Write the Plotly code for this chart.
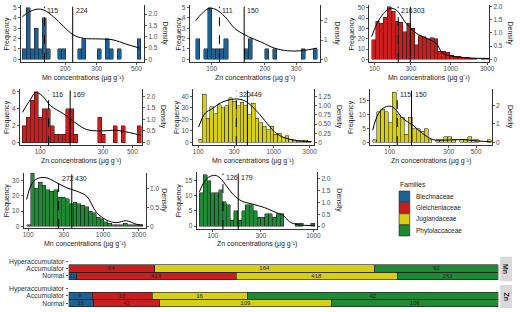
import numpy as np
import plotly.graph_objects as go

W, H = 520, 312
FONT = "Liberation Sans, Arial, sans-serif"

# ---------------- data ----------------
families = ["Blechnaceae", "Gleicheniaceae", "Juglandaceae", "Phytolaccaceae"]
fam_colors = ["#1b6191", "#c81e1e", "#d6cf13", "#1e8a35"]

# Mn - Blechnaceae
mn_blech_bins = [115, 530]
mn_blech_counts = [1, 5, 1, 3, 1, 4, 1, 0, 0, 1, 1, 0, 0, 0, 1, 2, 0, 0, 0, 1, 0, 2, 1, 0, 1, 0, 0, 0, 0, 2]
mn_blech_dx = [115, 123, 139, 152, 172, 196, 222, 253, 312, 370, 438, 519]
mn_blech_dy = [1.88, 2.06, 2.22, 2.18, 1.88, 1.45, 1.08, 0.93, 0.90, 0.86, 0.67, 0.50]
mn_blech_lines = [153, 220]
mn_blech_labels = ["115", "224"]

# Zn - Blechnaceae
zn_blech_bins = [81, 395]
zn_blech_counts = [2, 0, 1, 5, 1, 1, 1, 2, 0, 0, 0, 0, 1, 2, 0, 0, 0, 1, 0, 1, 0, 0, 0, 0, 0, 0, 1, 0, 0, 1]
zn_blech_dx = [81, 88, 96, 104.6, 119, 135, 160.6, 190.5, 226, 268.5, 319, 395]
zn_blech_dy = [2.0, 2.38, 2.63, 2.6, 2.2, 1.6, 1.18, 0.89, 0.58, 0.44, 0.44, 0.58]
zn_blech_lines = [110.5, 152.5]
zn_blech_labels = ["111", "150"]

# Mn - Gleicheniaceae
mn_gleich_bins = [92, 3133]
mn_gleich_counts = [19, 37, 35, 41, 51, 47, 37, 36, 27, 35, 30, 14, 23, 22, 20, 21, 20, 8, 8, 7, 4, 3, 3, 2, 2, 1, 1, 0, 1, 1]
mn_gleich_dx = [92, 118, 159, 194, 261, 352, 474, 639, 781, 1052, 1727, 3133]
mn_gleich_dy = [0.86, 1.55, 1.93, 1.86, 1.36, 0.99, 0.80, 0.61, 0.24, 0.11, 0.05, 0.03]
mn_gleich_lines = [205, 295]
mn_gleich_labels = ["216", "303"]

# Zn - Gleicheniaceae
zn_gleich_bins = [73.5, 582.6]
zn_gleich_counts = [2, 3, 5, 6, 3, 4, 4, 2, 1, 1, 1, 4, 4, 1, 0, 0, 0, 0, 0, 3, 1, 0, 0, 2, 0, 2, 0, 0, 0, 2]
zn_gleich_dx = [73.5, 84.9, 92.5, 103.8, 119.9, 150.8, 190, 225.8, 284, 378, 476, 582]
zn_gleich_dy = [1.31, 1.89, 2.17, 2.03, 1.60, 1.24, 0.81, 0.56, 0.50, 0.53, 0.43, 0.31]
zn_gleich_lines = [116, 169]
zn_gleich_labels = ["116", "169"]

# Mn - Juglandaceae
mn_jug_bins = [101.5, 3168]
mn_jug_counts = [3, 42, 21, 31, 25, 33, 30, 32, 39, 36, 32, 35, 32, 24, 34, 21, 17, 14, 11, 14, 7, 8, 4, 6, 3, 2, 1, 2, 2, 1]
mn_jug_dx = [101.5, 124, 151.7, 205, 307, 415, 562, 760, 1027, 1390, 2293, 3168]
mn_jug_dy = [0.42, 0.80, 0.91, 1.09, 1.18, 1.13, 0.91, 0.60, 0.29, 0.13, 0.04, 0.02]
mn_jug_lines = [320, 449]
mn_jug_labels = ["320", "449"]

# Zn - Juglandaceae
zn_jug_bins = [72.7, 663]
zn_jug_counts = [1, 11, 12, 11, 7, 18, 10, 9, 3, 9, 5, 5, 4, 5, 1, 0, 1, 1, 2, 2, 1, 0, 1, 1, 2, 1, 1, 0, 0, 1]
zn_jug_dx = [72.7, 80.8, 91.2, 103.2, 113.1, 128, 153.9, 185, 222.5, 284, 386.6, 494, 663]
zn_jug_dy = [0.66, 1.55, 1.91, 1.95, 1.73, 1.29, 0.93, 0.48, 0.16, 0.125, 0.16, 0.09, 0.04]
zn_jug_lines = [115, 150]
zn_jug_labels = ["115", "150"]

# Mn - Phytolaccaceae
mn_phyt_bins = [95.5, 3372]
mn_phyt_counts = [1, 35, 25, 29, 27, 24, 23, 24, 19, 19, 18, 15, 16, 15, 14, 13, 10, 9, 6, 5, 3, 2, 1, 1, 1, 2, 1, 1, 1, 1]
mn_phyt_dx = [95.5, 113.5, 139, 179, 243, 329, 445, 603, 817, 1108, 1501, 2033, 2754, 3372]
mn_phyt_dy = [0.71, 1.15, 1.28, 1.28, 1.15, 1.02, 0.93, 0.80, 0.37, 0.17, 0.10, 0.15, 0.06, 0.03]
mn_phyt_lines = [255, 382]
mn_phyt_labels = ["272", "430"]

# Zn - Phytolaccaceae
zn_phyt_bins = [73.5, 1030]
zn_phyt_counts = [11, 17, 15, 11, 11, 12, 8, 7, 2, 5, 2, 5, 7, 7, 5, 3, 3, 4, 4, 3, 4, 4, 0, 0, 0, 1, 1, 0, 0, 1]
zn_phyt_dx = [73.5, 81, 90.7, 105.5, 118.2, 137.4, 159.7, 193, 251, 327, 426, 496, 576.5, 696, 1031]
zn_phyt_dy = [1.44, 1.82, 2.06, 2.14, 2.03, 1.68, 1.33, 1.06, 0.92, 0.78, 0.57, 0.47, 0.19, 0.06, 0.03]
zn_phyt_lines = [126, 179]
zn_phyt_labels = ["126", "179"]

# Stacked bars (counts per family: Blech, Gleich, Jug, Phyt)
categories = ["Normal", "Accumulator", "Hyperaccumulator"]
mn_normal = [21, 413, 418, 262]
mn_accum = [0, 64, 164, 92]
mn_hyper = [0, 0, 0, 0]
zn_normal = [16, 42, 109, 106]
zn_accum = [4, 10, 16, 42]
zn_hyper = [0, 0, 0, 0]

# ---------------- panel layout ----------------
MN = "Mn concentrations (µg g⁻¹)"
ZN = "Zn concentrations (µg g⁻¹)"
panels = [
    dict(bins=mn_blech_bins, counts=mn_blech_counts, dx=mn_blech_dx, dy=mn_blech_dy, lines=mn_blech_lines, labels=mn_blech_labels, color=fam_colors[0],
         box=(20, 145, 3, 61), xr=[2.052, 2.743], yr=[-0.287, 5.26], y2r=[-0.131, 2.407],
         xt=[200, 300, 500], yt=[0, 1, 2, 3, 4, 5], y2t=[0, 0.5, 1, 1.5, 2], y2l=["0", "0.5", "1.0", "1.5", "2.0"],
         title=MN, ty=77, fx=6, dxp=166),
    dict(bins=zn_blech_bins, counts=zn_blech_counts, dx=zn_blech_dx, dy=zn_blech_dy, lines=zn_blech_lines, labels=zn_blech_labels, color=fam_colors[0],
         box=(190.7, 322.7, 3, 61), xr=[1.874, 2.612], yr=[-0.287, 5.26], y2r=[-0.154, 2.82],
         xt=[100, 200, 300], yt=[0, 1, 2, 3, 4, 5], y2t=[0, 1, 2], y2l=["0", "1", "2"],
         title=ZN, ty=77, fx=180, dxp=340),
    dict(bins=mn_gleich_bins, counts=mn_gleich_counts, dx=mn_gleich_dx, dy=mn_gleich_dy, lines=mn_gleich_lines, labels=mn_gleich_labels, color=fam_colors[1],
         box=(372.3, 494, 3, 61), xr=[1.929, 3.505], yr=[-2.88, 52.9], y2r=[-0.1125, 2.06],
         xt=[100, 300, 1000, 3000], yt=[0, 10, 20, 30, 40, 50], y2t=[0, 0.5, 1, 1.5, 2], y2l=["0", "0.5", "1.0", "1.5", "2.0"],
         title=MN, ty=77, fx=355, dxp=515),
    dict(bins=zn_gleich_bins, counts=zn_gleich_counts, dx=zn_gleich_dx, dy=zn_gleich_dy, lines=zn_gleich_lines, labels=zn_gleich_labels, color=fam_colors[1],
         box=(19, 143, 88, 145), xr=[1.846, 2.775], yr=[-0.31, 6.31], y2r=[-0.116, 2.33],
         xt=[100, 300, 500], yt=[0, 2, 4, 6], y2t=[0, 0.5, 1, 1.5, 2], y2l=["0", "0.5", "1.0", "1.5", "2.0"],
         title=ZN, ty=161, fx=6, dxp=164),
    dict(bins=mn_jug_bins, counts=mn_jug_counts, dx=mn_jug_dx, dy=mn_jug_dy, lines=mn_jug_lines, labels=mn_jug_labels, color=fam_colors[2],
         box=(194, 316.7, 88, 145), xr=[1.928, 3.536], yr=[-2.3, 46.6], y2r=[-0.072, 1.456],
         xt=[100, 300, 1000, 3000], yt=[0, 10, 20, 30, 40], y2t=[0, 0.25, 0.5, 0.75, 1, 1.25], y2l=["0", "0.25", "0.50", "0.75", "1.00", "1.25"],
         title=MN, ty=161, fx=178, dxp=342),
    dict(bins=zn_jug_bins, counts=zn_jug_counts, dx=zn_jug_dx, dy=zn_jug_dy, lines=zn_jug_lines, labels=zn_jug_labels, color=fam_colors[2],
         box=(373.3, 496.7, 88, 145), xr=[1.84, 2.827], yr=[-0.96, 19.25], y2r=[-0.145, 2.9],
         xt=[100, 300, 500], yt=[0, 5, 10, 15], y2t=[0, 1, 2], y2l=["0", "1", "2"],
         title=ZN, ty=161, fx=354, dxp=515),
    dict(bins=mn_phyt_bins, counts=mn_phyt_counts, dx=mn_phyt_dx, dy=mn_phyt_dy, lines=mn_phyt_lines, labels=mn_phyt_labels, color=fam_colors[3],
         box=(22.7, 146.7, 173, 229), xr=[1.937, 3.573], yr=[-1.1, 35.2], y2r=[-0.044, 1.418],
         xt=[100, 300, 1000, 3000], yt=[0, 10, 20, 30], y2t=[0, 0.5, 1], y2l=["0", "0.5", "1.0"],
         title=MN, ty=245, fx=6, dxp=164),
    dict(bins=zn_phyt_bins, counts=zn_phyt_counts, dx=zn_phyt_dx, dy=zn_phyt_dy, lines=zn_phyt_lines, labels=zn_phyt_labels, color=fam_colors[3],
         box=(197.7, 320, 172, 230), xr=[1.837, 3.039], yr=[-0.97, 17.9], y2r=[-0.125, 2.29],
         xt=[100, 300, 1000], yt=[0, 5, 10, 15], y2t=[0, 0.5, 1, 1.5, 2], y2l=["0", "0.5", "1.0", "1.5", "2.0"],
         title=ZN, ty=245, fx=181, dxp=342),
]

def sfx(i):
    return "" if i == 1 else str(i)

fig = go.Figure()
layout = {}
annotations = []
shapes = []

tickfont = dict(size=6.5, color="#4d4d4d", family=FONT)
titlefont = dict(size=7, color="#1a1a1a", family=FONT)

for i, p in enumerate(panels, start=1):
    x0, x1, yt, yb = p["box"]
    xs, ys, ys2 = sfx(i), sfx(i), sfx(i + 8)
    lo, hi = np.log10(p["bins"])
    n = len(p["counts"])
    w = (hi - lo) / n
    centers = lo + w * (np.arange(n) + 0.5)
    counts = [c if c > 0 else None for c in p["counts"]]
    fig.add_trace(go.Bar(x=centers, y=counts, width=w,
                         marker=dict(color=p["color"], line=dict(color="#1a1a1a", width=0.5)),
                         xaxis="x" + xs, yaxis="y" + ys, showlegend=False, hoverinfo="skip"))
    fig.add_trace(go.Scatter(x=np.log10(p["dx"]), y=p["dy"], mode="lines",
                             line=dict(color="black", width=1, shape="spline", smoothing=1.0),
                             xaxis="x" + xs, yaxis="y" + ys2, showlegend=False, hoverinfo="skip"))
    common = dict(showline=True, linecolor="black", linewidth=0.8, ticks="outside", ticklen=2,
                  tickcolor="#333333", tickwidth=0.8, tickfont=tickfont, showgrid=False, zeroline=False)
    layout["xaxis" + xs] = dict(domain=[x0 / W, x1 / W], range=p["xr"], anchor="y" + ys,
                                tickvals=list(np.log10(p["xt"])), ticktext=[str(v) for v in p["xt"]],
                                ticklabelstandoff=-2, **common)
    layout["yaxis" + ys] = dict(domain=[1 - yb / H, 1 - yt / H], range=p["yr"], anchor="x" + xs,
                                tickvals=p["yt"], ticktext=[str(v) for v in p["yt"]], **common)
    layout["yaxis" + ys2] = dict(overlaying="y" + ys, side="right", anchor="x" + xs, range=p["y2r"],
                                 tickvals=p["y2t"], ticktext=p["y2l"], **common)
    # median (dashed) and mean (solid) lines
    for k, (v, lab) in enumerate(zip(p["lines"], p["labels"])):
        shapes.append(dict(type="line", xref="x" + xs, yref="y" + ys + " domain",
                           x0=np.log10(v), x1=np.log10(v), y0=0, y1=0.97,
                           line=dict(color="black", width=1, dash="dash" if k == 0 else "solid")))
        annotations.append(dict(xref="x" + xs, yref="y" + ys + " domain", x=np.log10(v), y=1.0,
                                text=lab, showarrow=False, xanchor="left", yanchor="top", xshift=1,
                                font=dict(size=7, color="#1a1a1a", family=FONT)))
    # titles
    annotations.append(dict(xref="paper", yref="paper", x=(x0 + x1) / 2 / W, y=1 - p["ty"] / H,
                            text=p["title"], showarrow=False, xanchor="center", yanchor="middle", font=titlefont))
    annotations.append(dict(xref="paper", yref="paper", x=p["fx"] / W, y=1 - (yt + yb) / 2 / H,
                            text="Frequency", showarrow=False, textangle=-90, xanchor="center", yanchor="middle", font=titlefont))
    annotations.append(dict(xref="paper", yref="paper", x=p["dxp"] / W, y=1 - (yt + yb) / 2 / H,
                            text="Density", showarrow=False, textangle=90, xanchor="center", yanchor="middle", font=titlefont))

# ---------------- stacked proportion bars ----------------
bar_panels = [
    dict(name="Mn", rows=[mn_normal, mn_accum, mn_hyper], box=(68.3, 503.3, 258, 283), yr=[-0.75, 2.6], strip=(505, 517)),
    dict(name="Zn", rows=[zn_normal, zn_accum, zn_hyper], box=(68.3, 503.3, 286.7, 310), yr=[-0.65, 2.45], strip=(505, 517)),
]
for j, bp in enumerate(bar_panels):
    xi = 9 + j
    yi = 17 + j
    x0, x1, yt, yb = bp["box"]
    totals = [sum(r) for r in bp["rows"]]
    for f in range(4):
        vals = [r[f] / t if (t > 0 and r[f] > 0) else None for r, t in zip(bp["rows"], totals)]
        txt = [str(r[f]) if r[f] > 0 else "" for r in bp["rows"]]
        fig.add_trace(go.Bar(x=vals, y=[0, 1, 2], orientation="h", width=1.0,
                             marker=dict(color=fam_colors[f], line=dict(color="#1a1a1a", width=0.6)),
                             text=txt, textposition="inside", insidetextanchor="middle",
                             textfont=dict(size=6, color="#222222", family=FONT),
                             xaxis="x" + str(xi), yaxis="y" + str(yi), showlegend=False, hoverinfo="skip"))
    layout["xaxis" + str(xi)] = dict(domain=[x0 / W, x1 / W], range=[0, 1], anchor="y" + str(yi), visible=False)
    layout["yaxis" + str(yi)] = dict(domain=[1 - yb / H, 1 - yt / H], range=bp["yr"], anchor="x" + str(xi),
                                     tickvals=[0, 1, 2], ticktext=categories, ticks="outside", ticklen=2,
                                     tickcolor="#333333", tickwidth=0.8, showline=False, showgrid=False, zeroline=False,
                                     tickfont=dict(size=6.8, color="#333333", family=FONT))
    sx0, sx1 = bp["strip"]
    shapes.append(dict(type="rect", xref="paper", yref="paper", x0=sx0 / W, x1=sx1 / W,
                       y0=1 - yb / H, y1=1 - yt / H, fillcolor="#d9d9d9", line=dict(width=0)))
    annotations.append(dict(xref="paper", yref="paper", x=(sx0 + sx1) / 2 / W, y=1 - (yt + yb) / 2 / H,
                            text="<b>" + bp["name"] + "</b>", showarrow=False, textangle=90,
                            xanchor="center", yanchor="middle", font=dict(size=7, color="#1a1a1a", family=FONT)))

# ---------------- legend ----------------
annotations.append(dict(xref="paper", yref="paper", x=401.7 / W, y=1 - 185 / H, text="Families",
                        showarrow=False, xanchor="left", yanchor="middle",
                        font=dict(size=6.8, color="#1a1a1a", family=FONT)))
for f, (nm, col) in enumerate(zip(families, fam_colors)):
    top = 191.5 + f * 11.5
    shapes.append(dict(type="rect", xref="paper", yref="paper", x0=402.7 / W, x1=413.5 / W,
                       y0=1 - (top + 11) / H, y1=1 - top / H, fillcolor=col, line=dict(color="#1a1a1a", width=0.6)))
    annotations.append(dict(xref="paper", yref="paper", x=418 / W, y=1 - (top + 5.5) / H, text=nm,
                            showarrow=False, xanchor="left", yanchor="middle",
                            font=dict(size=6.5, color="#1a1a1a", family=FONT)))

fig.update_layout(
    width=W, height=H, autosize=False,
    margin=dict(l=0, r=0, t=0, b=0),
    paper_bgcolor="white", plot_bgcolor="rgba(0,0,0,0)",
    barmode="stack", bargap=0, hovermode=False,
    font=dict(family=FONT, size=7),
    uniformtext=dict(mode="show", minsize=6),
    annotations=annotations, shapes=shapes,
    **layout,
)
fig.write_html("out.html", config={"displayModeBar": False, "staticPlot": True},
               post_script="document.body.style.margin='0px';document.body.style.padding='0px';")
